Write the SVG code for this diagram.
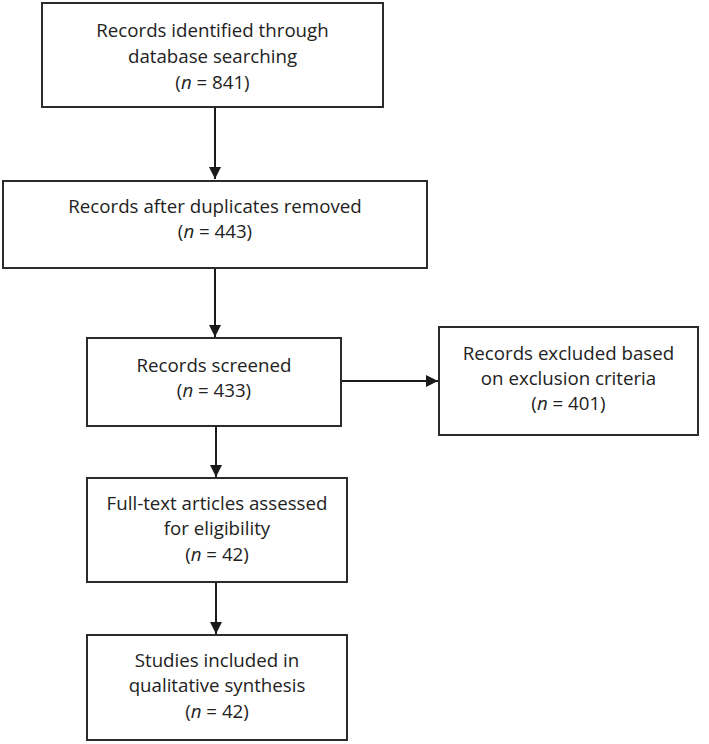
<svg xmlns="http://www.w3.org/2000/svg" width="709" height="744" viewBox="0 0 709 744">
<style>
.box{fill:#fff;stroke:#2b2b2b;stroke-width:2}
.t{font-family:"Open Sans","Liberation Sans",sans-serif;font-size:18.7px;fill:#222;text-anchor:middle}
.c{stroke:#1a1a1a;stroke-width:2;fill:none;marker-end:url(#ah)}
</style>
<defs>
<marker id="ah" viewBox="0 0 10 10" refX="10" refY="5" markerWidth="6" markerHeight="6" markerUnits="strokeWidth" orient="auto">
<path d="M0,0 L10,5 L0,10 z" fill="#1a1a1a"/>
</marker>
</defs>
<rect width="709" height="744" fill="#fff"/>
<g id="connectors">
<line class="c" x1="215" y1="107" x2="215" y2="179"/>
<line class="c" x1="215" y1="268" x2="215" y2="337"/>
<line class="c" x1="341" y1="381" x2="438" y2="381"/>
<line class="c" x1="216" y1="426" x2="216" y2="477"/>
<line class="c" x1="216" y1="582" x2="216" y2="634"/>
</g>
<g id="n1">
<rect class="box" x="42" y="3" width="341" height="104"/>
<text class="t" x="212.5" y="37">Records identified through</text>
<text class="t" x="212.5" y="63">database searching</text>
<text class="t" x="212.5" y="89">(<tspan font-style="italic">n</tspan> = 841)</text>
</g>
<g id="n2">
<rect class="box" x="3" y="181" width="424" height="87"/>
<text class="t" x="215" y="213">Records after duplicates removed</text>
<text class="t" x="215" y="238">(<tspan font-style="italic">n</tspan> = 443)</text>
</g>
<g id="n3">
<rect class="box" x="87" y="338" width="254" height="88"/>
<text class="t" x="214" y="372">Records screened</text>
<text class="t" x="214" y="397">(<tspan font-style="italic">n</tspan> = 433)</text>
</g>
<g id="n4">
<rect class="box" x="439" y="327" width="259" height="108"/>
<text class="t" x="568.5" y="360">Records excluded based</text>
<text class="t" x="568.5" y="385">on exclusion criteria</text>
<text class="t" x="568.5" y="410">(<tspan font-style="italic">n</tspan> = 401)</text>
</g>
<g id="n5">
<rect class="box" x="87" y="478" width="260" height="104"/>
<text class="t" x="217" y="510">Full-text articles assessed</text>
<text class="t" x="217" y="535">for eligibility</text>
<text class="t" x="217" y="561">(<tspan font-style="italic">n</tspan> = 42)</text>
</g>
<g id="n6">
<rect class="box" x="87" y="635" width="260" height="105"/>
<text class="t" x="217" y="667">Studies included in</text>
<text class="t" x="217" y="692">qualitative synthesis</text>
<text class="t" x="217" y="718">(<tspan font-style="italic">n</tspan> = 42)</text>
</g>
</svg>
